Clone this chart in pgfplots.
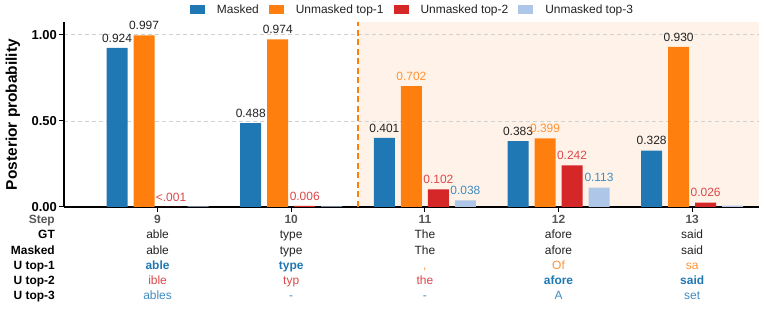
\documentclass[border=0pt]{standalone}
\usepackage{fontspec}
\setmainfont{Liberation Sans}
\usepackage{pgfplots}
\usepackage{pgfplotstable}
\pgfplotsset{compat=1.18}

% bar colours
\definecolor{cblue}{HTML}{1F77B4}
\definecolor{corange}{HTML}{FF7F0E}
\definecolor{cred}{HTML}{D62728}
\definecolor{clblue}{HTML}{AEC7E8}
% text colours
\definecolor{tblack}{HTML}{222222}
\definecolor{tgray}{HTML}{555555}
\definecolor{torange}{HTML}{FF9232}
\definecolor{tred}{HTML}{DC4748}
\definecolor{tblue}{HTML}{418BBF}

% coloured value labels
\protected\def\lk#1{\textcolor{tblack}{#1}}
\protected\def\lo#1{\textcolor{torange}{#1}}
\protected\def\lr#1{\textcolor{tred}{#1}}
\protected\def\lb#1{\textcolor{tblue}{#1}}

% posterior probabilities per decoding step, with value label
\pgfplotstableread{
x  y       lab
9  0.924   \lk{0.924}
10 0.488   \lk{0.488}
11 0.401   \lk{0.401}
12 0.383   \lk{0.383}
13 0.328   \lk{0.328}
}\tabMasked
\pgfplotstableread{
x  y       lab
9  0.997   \lk{0.997}
10 0.974   \lk{0.974}
11 0.702   \lo{0.702}
12 0.399   \lo{0.399}
13 0.930   \lk{0.930}
}\tabTopOne
\pgfplotstableread{
x  y       lab
9  0.0008  \lr{<.001}
10 0.006   \lr{0.006}
11 0.102   \lr{0.102}
12 0.242   \lr{0.242}
13 0.026   \lr{0.026}
}\tabTopTwo
\pgfplotstableread{
x  y       lab
9  0.004   {}
10 0.003   {}
11 0.038   \lb{0.038}
12 0.113   \lb{0.113}
13 0.008   {}
}\tabTopThree

\tikzset{cellfont/.style={font=\fontsize{12}{14}\selectfont}}
% one cell of the token table below the axis: column, depth below axis, colour, text
\newcommand\cell[4]{\node[cellfont, anchor=base, text=#3, inner sep=0pt] at ([yshift=-#2bp]c#1) {#4};}

\begin{document}
\begin{tikzpicture}
\begin{axis}[
  at={(64bp,102bp)}, anchor=south west,
  scale only axis, width=695bp, height=185bp,
  set layers, clip=false,
  xmin=8.3, xmax=13.5, ymin=0, ymax=1.075,
  axis x line*=bottom, axis y line*=left,
  axis line style={line width=1.2bp, -},
  xtick={9,10,11,12,13}, xticklabels={},
  ytick={0,0.5,1}, yticklabels={\textbf{0.00},\textbf{0.50},\textbf{1.00}},
  yticklabel style={font=\fontsize{13}{15}\selectfont, text=black, inner sep=2bp},
  tick align=outside, major tick length=5bp,
  tick style={black, line width=1bp},
  ymajorgrids, grid style={dash pattern=on 4bp off 3bp, black!18, line width=0.9bp},
  ybar, bar width=21bp,
  point meta=explicit symbolic,
  nodes near coords,
  every node near coord/.append style={font=\fontsize{12}{14}\selectfont, text=tblack, inner sep=0pt, yshift=5.5bp},
  legend columns=4,
  legend image code/.code={\fill[#1] (0bp,-4.5bp) rectangle (15bp,4.5bp);},
  legend style={at={(0.5,1.065)}, anchor=center, draw=none, fill=none,
    font=\fontsize{12}{14}\selectfont, text=tblack,
    nodes={inner sep=0pt},
    /tikz/every even column/.append style={column sep=10bp},
    /tikz/every odd column/.append style={column sep=12bp}},
]
% highlighted steps 11--13
\begin{pgfonlayer}{axis background}
  \fill[corange, opacity=0.09] (axis cs:10.5,0) rectangle (axis cs:13.5,1.075);
\end{pgfonlayer}
\draw[corange, line width=1.4bp, dash pattern=on 6bp off 3.5bp] (axis cs:10.5,0) -- (axis cs:10.5,1.075);

\addplot[fill=cblue, draw=none, bar shift=-40.5bp] table[x=x, y=y, meta=lab] {\tabMasked};
\addlegendentry{Masked}
\addplot[fill=corange, draw=none, bar shift=-13.5bp] table[x=x, y=y, meta=lab] {\tabTopOne};
\addlegendentry{Unmasked top-1}
\addplot[fill=cred, draw=none, bar shift=13.5bp] table[x=x, y=y, meta=lab] {\tabTopTwo};
\addlegendentry{Unmasked top-2}
\addplot[fill=clblue, draw=none, bar shift=40.5bp] table[x=x, y=y, meta=lab] {\tabTopThree};
\addlegendentry{Unmasked top-3}

\coordinate (c9) at (axis cs:9,0);
\coordinate (c10) at (axis cs:10,0);
\coordinate (c11) at (axis cs:11,0);
\coordinate (c12) at (axis cs:12,0);
\coordinate (c13) at (axis cs:13,0);
\end{axis}

% y label
\node[rotate=90, font=\fontsize{15.5}{17}\selectfont\bfseries, text=black] at (13bp,194.5bp) {Posterior probability};

% row headers of the token table
\begin{scope}[every node/.style={cellfont, anchor=base east, inner sep=0pt}]
  \node[text=tgray] at (55bp,85.2bp) {\textbf{Step}};
  \node[text=black] at (55bp,70.05bp) {\textbf{GT}};
  \node[text=black] at (55bp,54.9bp) {\textbf{Masked}};
  \node[text=black] at (55bp,39.75bp) {\textbf{U top-1}};
  \node[text=black] at (55bp,24.6bp) {\textbf{U top-2}};
  \node[text=black] at (55bp,9.45bp) {\textbf{U top-3}};
\end{scope}

% step numbers
\cell{9}{16.8}{tgray}{\textbf{9}}
\cell{10}{16.8}{tgray}{\textbf{10}}
\cell{11}{16.8}{tgray}{\textbf{11}}
\cell{12}{16.8}{tgray}{\textbf{12}}
\cell{13}{16.8}{tgray}{\textbf{13}}
% ground truth
\cell{9}{31.95}{tblack}{able}
\cell{10}{31.95}{tblack}{type}
\cell{11}{31.95}{tblack}{The}
\cell{12}{31.95}{tblack}{afore}
\cell{13}{31.95}{tblack}{said}
% masked prediction
\cell{9}{47.1}{tblack}{able}
\cell{10}{47.1}{tblack}{type}
\cell{11}{47.1}{tblack}{The}
\cell{12}{47.1}{tblack}{afore}
\cell{13}{47.1}{tblack}{said}
% unmasked top-1
\cell{9}{62.25}{cblue}{\textbf{able}}
\cell{10}{62.25}{cblue}{\textbf{type}}
\cell{11}{62.25}{torange}{,}
\cell{12}{62.25}{torange}{Of}
\cell{13}{62.25}{torange}{sa}
% unmasked top-2
\cell{9}{77.4}{tred}{ible}
\cell{10}{77.4}{tred}{typ}
\cell{11}{77.4}{tred}{the}
\cell{12}{77.4}{cblue}{\textbf{afore}}
\cell{13}{77.4}{cblue}{\textbf{said}}
% unmasked top-3
\cell{9}{92.55}{tblue}{ables}
\cell{10}{92.55}{tblue}{-}
\cell{11}{92.55}{tblue}{-}
\cell{12}{92.55}{tblue}{A}
\cell{13}{92.55}{tblue}{set}

% page is exactly the figure area
\pgfresetboundingbox
\path[use as bounding box] (0,0) rectangle (766bp,309bp);
\end{tikzpicture}
\end{document}
